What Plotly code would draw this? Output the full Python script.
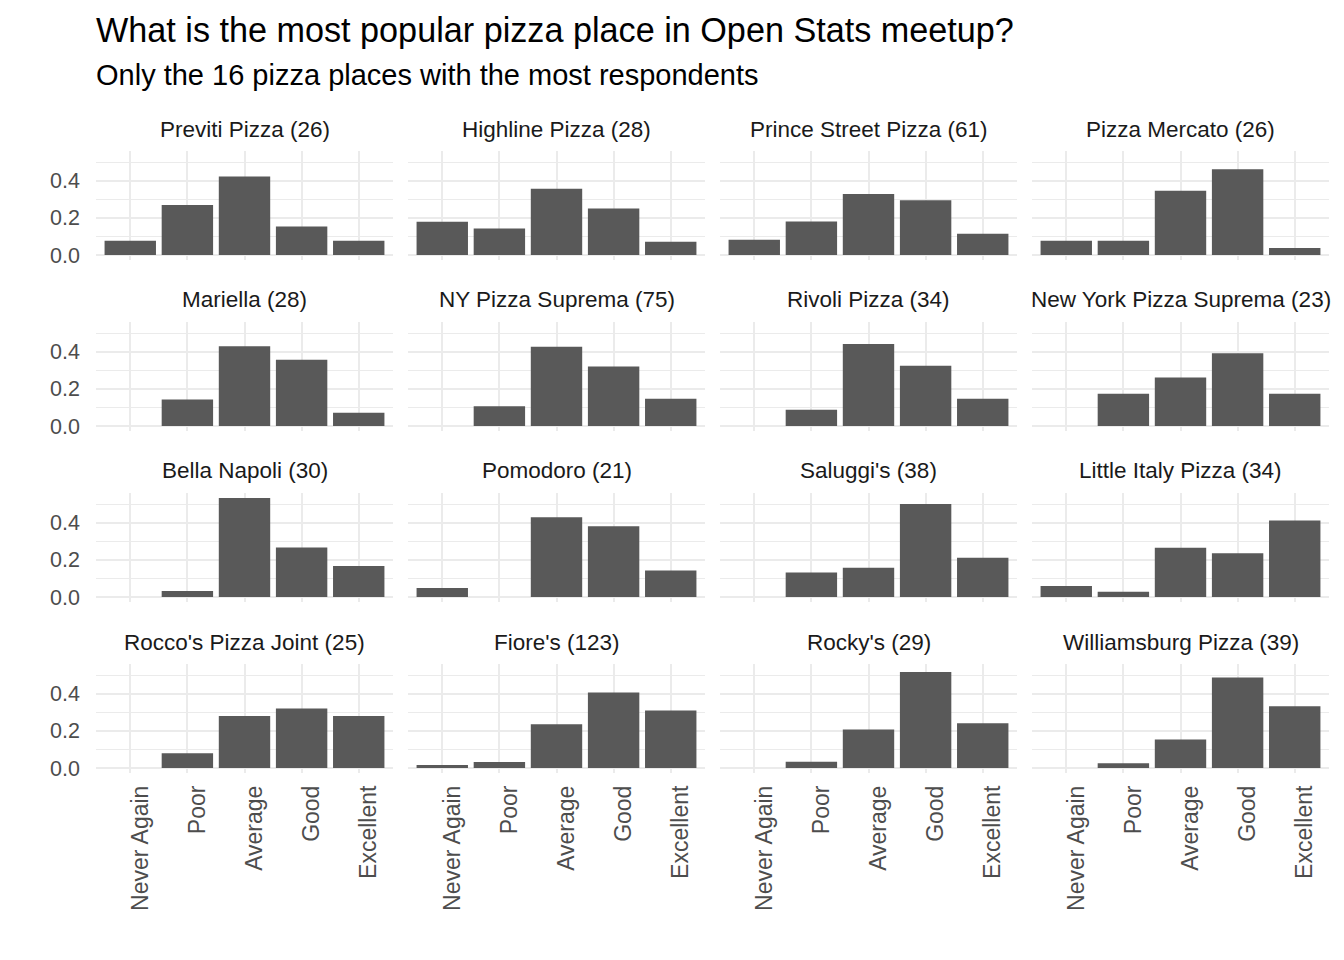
import plotly.graph_objects as go
from plotly.subplots import make_subplots

# ratings, in order of the x axis
ratings = ["Never Again", "Poor", "Average", "Good", "Excellent"]

# facet labels (place name and number of respondents), row by row
places = [
    "Previti Pizza (26)", "Highline Pizza (28)", "Prince Street Pizza (61)", "Pizza Mercato (26)",
    "Mariella (28)", "NY Pizza Suprema (75)", "Rivoli Pizza (34)", "New York Pizza Suprema (23)",
    "Bella Napoli (30)", "Pomodoro (21)", "Saluggi's (38)", "Little Italy Pizza (34)",
    "Rocco's Pizza Joint (25)", "Fiore's (123)", "Rocky's (29)", "Williamsburg Pizza (39)",
]

# share of respondents per rating (Never Again .. Excellent)
previti = [0.077, 0.269, 0.423, 0.154, 0.077]
highline = [0.179, 0.143, 0.357, 0.250, 0.071]
prince_street = [0.082, 0.180, 0.328, 0.295, 0.115]
pizza_mercato = [0.077, 0.077, 0.346, 0.462, 0.038]
mariella = [0.0, 0.143, 0.429, 0.357, 0.071]
ny_suprema = [0.0, 0.107, 0.427, 0.320, 0.147]
rivoli = [0.0, 0.088, 0.441, 0.324, 0.147]
new_york_suprema = [0.0, 0.174, 0.261, 0.391, 0.174]
bella_napoli = [0.0, 0.033, 0.533, 0.267, 0.167]
pomodoro = [0.048, 0.0, 0.429, 0.381, 0.143]
saluggis = [0.0, 0.132, 0.158, 0.500, 0.211]
little_italy = [0.059, 0.029, 0.265, 0.235, 0.412]
roccos = [0.0, 0.080, 0.280, 0.320, 0.280]
fiores = [0.016, 0.033, 0.236, 0.407, 0.309]
rockys = [0.0, 0.034, 0.207, 0.517, 0.241]
williamsburg = [0.0, 0.026, 0.154, 0.487, 0.333]

shares = [
    previti, highline, prince_street, pizza_mercato,
    mariella, ny_suprema, rivoli, new_york_suprema,
    bella_napoli, pomodoro, saluggis, little_italy,
    roccos, fiores, rockys, williamsburg,
]

FONT = "Liberation Sans, Arial, sans-serif"
BAR = "#595959"
GRID = "#EBEBEB"

# plot area 1233 x 622 px; the page body adds an 8px offset, margins allow for it
fig = make_subplots(
    rows=4, cols=4,
    subplot_titles=places,
    horizontal_spacing=15 / 1233,
    vertical_spacing=62 / 622,
)

for i, vals in enumerate(shares):
    r, c = i // 4 + 1, i % 4 + 1
    fig.add_trace(
        go.Bar(x=ratings, y=vals, marker_color=BAR, marker_line_width=0,
               width=0.9, showlegend=False, hoverinfo="x+y"),
        row=r, col=c,
    )

ymax = max(max(v) for v in shares)
pad = ymax * 0.05

fig.update_xaxes(
    categoryorder="array", categoryarray=ratings,
    range=[-0.6, 4.6],
    showgrid=True, gridcolor=GRID, gridwidth=2,
    showline=False, zeroline=False, ticks="",
    tickangle=-90, ticklabelstandoff=7, ticklabelshift=10,
    tickfont=dict(family=FONT, size=23, color="#4D4D4D"),
    showticklabels=False, automargin=False,
)
for c in range(1, 5):
    fig.update_xaxes(showticklabels=True, row=4, col=c)

fig.update_yaxes(
    range=[-pad, ymax + pad],
    tickvals=[0, 0.2, 0.4], tickformat=".1f",
    showgrid=True, gridcolor=GRID, gridwidth=2,
    minor=dict(tickvals=[0.1, 0.3, 0.5], showgrid=True, gridcolor=GRID, gridwidth=1),
    showline=False, zeroline=False, ticks="",
    ticklabelstandoff=15,
    tickfont=dict(family=FONT, size=21.5, color="#4D4D4D"),
    showticklabels=False, automargin=False,
)
for r in range(1, 5):
    fig.update_yaxes(showticklabels=True, row=r, col=1)

# facet strip labels
for ann in fig.layout.annotations:
    ann.update(font=dict(family=FONT, size=22.5, color="#1A1A1A"),
               yanchor="middle", yshift=22)

fig.add_annotation(
    text="What is the most popular pizza place in Open Stats meetup?",
    xref="paper", yref="paper", x=0, y=(773 - 30) / 622,
    xanchor="left", yanchor="middle", showarrow=False, xshift=-2,
    font=dict(family=FONT, size=34.2, color="black"),
)
fig.add_annotation(
    text="Only the 16 pizza places with the most respondents",
    xref="paper", yref="paper", x=0, y=(773 - 75) / 622,
    xanchor="left", yanchor="middle", showarrow=False, xshift=-2,
    font=dict(family=FONT, size=29, color="black"),
)

fig.update_layout(
    width=1344, height=960,
    margin=dict(l=88, r=23, t=143, b=195),
    paper_bgcolor="white", plot_bgcolor="white",
    bargap=0.1,
    font=dict(family=FONT),
)

fig.write_html("out.html")
